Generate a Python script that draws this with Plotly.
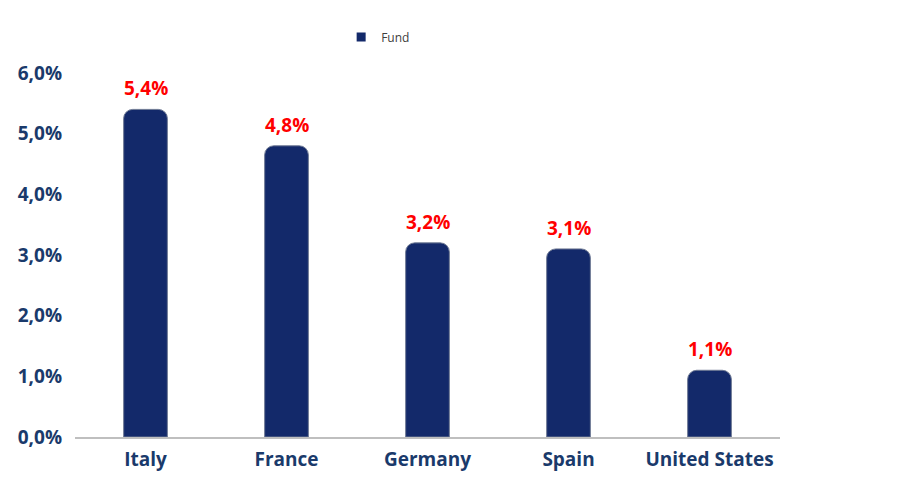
import plotly.graph_objects as go

categories = ["Italy", "France", "Germany", "Spain", "United States"]
fund = [5.4, 4.8, 3.2, 3.1, 1.1]
tick_vals = [0, 1, 2, 3, 4, 5, 6]
tick_text = ["0,0%", "1,0%", "2,0%", "3,0%", "4,0%", "5,0%", "6,0%"]
label_text = [f"{v:.1f}%".replace(".", ",") for v in fund]

fig = go.Figure()
fig.add_trace(go.Bar(
    x=categories, y=fund, name="Fund",
    marker=dict(color="#13296a", line=dict(color="#6f7a94", width=1), cornerradius=9),
    width=0.31,
    showlegend=False,
))
# legend-only entry with a square swatch
fig.add_trace(go.Scatter(
    x=[None], y=[None], name="Fund", mode="markers",
    marker=dict(symbol="square", size=9, color="#13296a"),
    showlegend=True,
))

for c, v, t in zip(categories, fund, label_text):
    fig.add_annotation(x=c, y=v, text=t, showarrow=False, yanchor="bottom", yshift=6,
                       font=dict(color="#ff0000", size=19, family="Open Sans", weight="bold"))

fig.update_layout(
    width=912, height=491,
    margin=dict(l=67, r=140, t=65, b=62, autoexpand=False),
    paper_bgcolor="white", plot_bgcolor="white",
    showlegend=True,
    legend=dict(orientation="h", x=0.43, y=1.099, xanchor="center", yanchor="middle",
                font=dict(size=12, color="#404040", family="Open Sans"),
                itemwidth=30, tracegroupgap=0),
    xaxis=dict(showgrid=False, showline=True, linecolor="#bfbfbf", linewidth=2,
               ticks="", automargin=False, ticklabelstandoff=4,
               tickfont=dict(size=19, color="#1a3a6b", family="Open Sans", weight="bold")),
    yaxis=dict(range=[0, 6], tickvals=tick_vals, ticktext=tick_text,
               showgrid=False, zeroline=False, showline=False, ticks="",
               automargin=False, ticklabelstandoff=12,
               tickfont=dict(size=19, color="#1a3a6b", family="Open Sans", weight="bold")),
)

fig.write_html("out.html")
